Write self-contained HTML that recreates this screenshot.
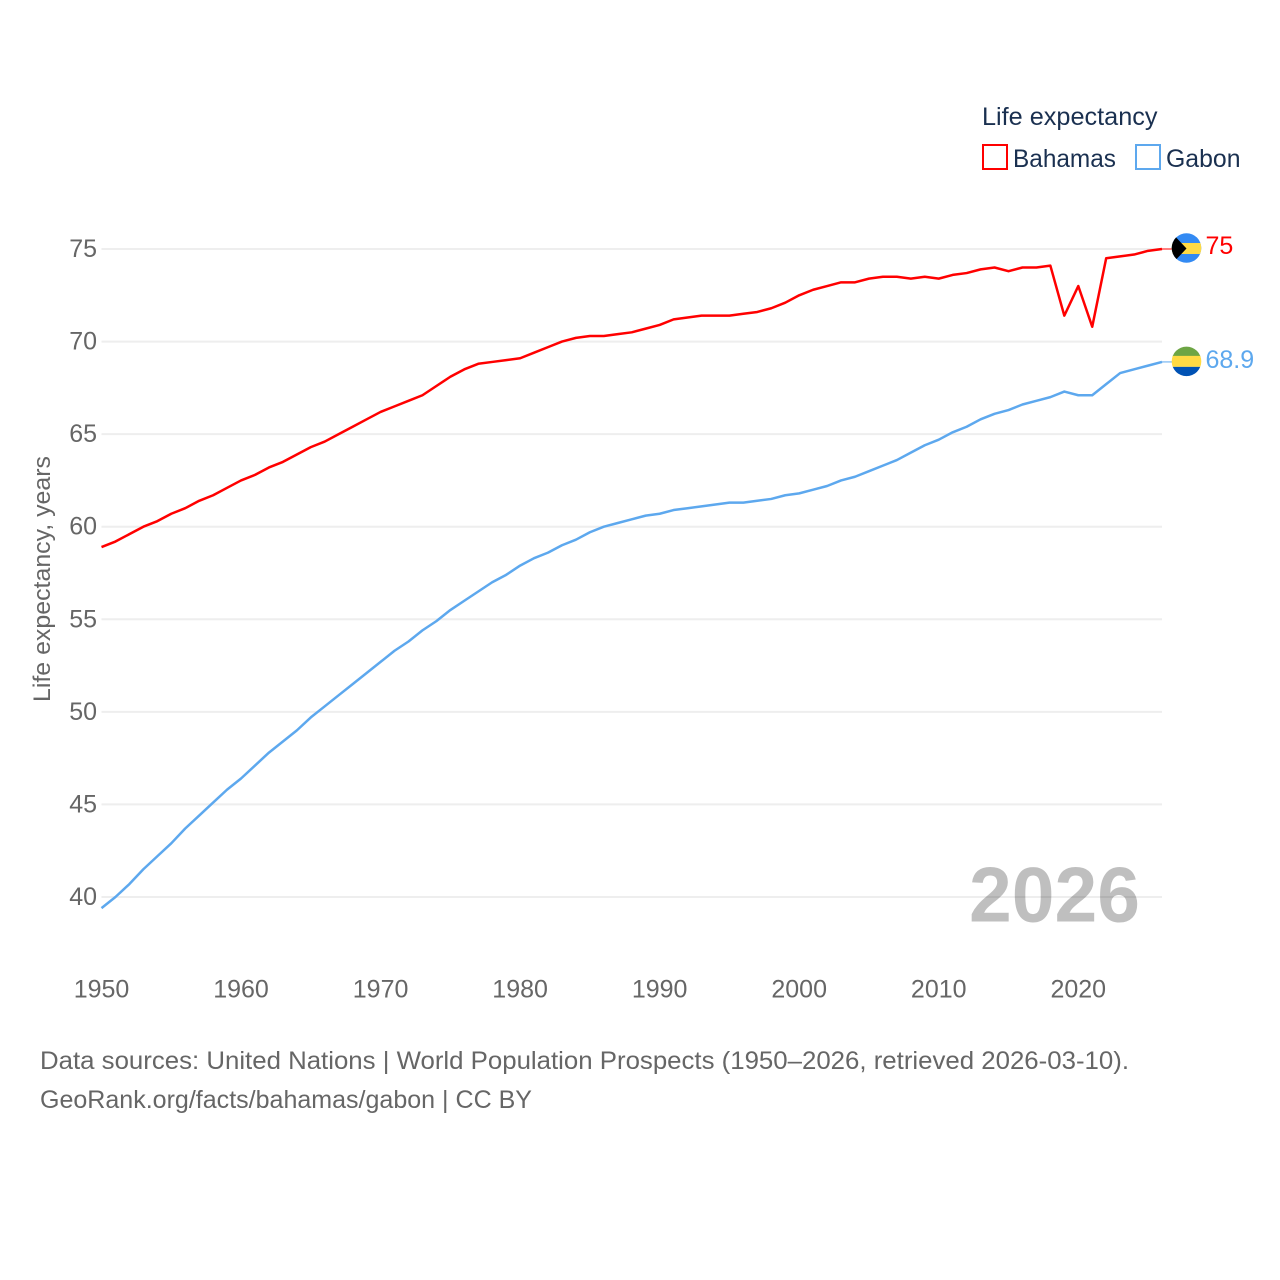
<!DOCTYPE html>
<html lang="en">
<head>
<meta charset="utf-8">
<title>Life expectancy: Bahamas and Gabon</title>
<style>
  html, body { margin: 0; padding: 0; background: #fff; }
  svg { display: block; font-family: "Liberation Sans", sans-serif; }
</style>
</head>
<body>
<svg id="chart" xmlns="http://www.w3.org/2000/svg" width="1280" height="1280" viewBox="0 0 1280 1280">
  <rect x="0" y="0" width="1280" height="1280" fill="#ffffff"/>
  <defs>
    <clipPath id="flag-clip-bahamas"><circle id="clip-circle-bahamas" cx="1186.5" cy="248" r="14.8"/></clipPath>
    <clipPath id="flag-clip-gabon"><circle id="clip-circle-gabon" cx="1186.5" cy="361.5" r="14.8"/></clipPath>
  </defs>
  <g id="grid"></g>
  <g id="y-ticks"></g>
  <g id="x-ticks"></g>
  <text transform="translate(50,702) rotate(-90)" font-size="24" fill="#666666" textLength="246" lengthAdjust="spacingAndGlyphs">Life expectancy, years</text>
  <text x="969" y="921.5" font-size="78" font-weight="700" fill="#000000" fill-opacity="0.25" textLength="171" lengthAdjust="spacingAndGlyphs">2026</text>
  <g id="series"></g>
  <g id="flag-bahamas">
    <g clip-path="url(#flag-clip-bahamas)">
      <rect x="1171" y="233" width="31" height="30" fill="#338af3"/>
      <rect x="1171" y="243" width="31" height="11" fill="#ffda44"/>
      <polygon points="1171,232 1186.5,248.5 1171,265" fill="#000000"/>
    </g>
  </g>
  <g id="flag-gabon">
    <g clip-path="url(#flag-clip-gabon)">
      <rect x="1171" y="346" width="31" height="11" fill="#6da544"/>
      <rect x="1171" y="356" width="31" height="11" fill="#ffda44"/>
      <rect x="1171" y="367" width="31" height="11" fill="#0052b4"/>
    </g>
  </g>
  <g id="end-labels"></g>
  <g id="legend">
    <text x="982" y="125" font-size="25" fill="#1a3050" textLength="175.5" lengthAdjust="spacingAndGlyphs">Life expectancy</text>
    <g>
      <rect x="983" y="145" width="24" height="24" fill="#ffffff" stroke="#ff0000" stroke-width="2"/>
      <text x="1013" y="167" font-size="25" fill="#1a3050" textLength="103" lengthAdjust="spacingAndGlyphs">Bahamas</text>
    </g>
    <g>
      <rect x="1136" y="145" width="24" height="24" fill="#ffffff" stroke="#5da8ee" stroke-width="2"/>
      <text x="1166" y="167" font-size="25" fill="#1a3050" textLength="74.5" lengthAdjust="spacingAndGlyphs">Gabon</text>
    </g>
  </g>
  <text x="40" y="1069" font-size="25" fill="#666666" textLength="1089" lengthAdjust="spacingAndGlyphs">Data sources: United Nations | World Population Prospects (1950–2026, retrieved 2026-03-10).</text>
  <text x="40" y="1108" font-size="25" fill="#666666" textLength="492" lengthAdjust="spacingAndGlyphs">GeoRank.org/facts/bahamas/gabon | CC BY</text>
</svg>
<script>
const years = [1950,1951,1952,1953,1954,1955,1956,1957,1958,1959,1960,1961,1962,1963,1964,1965,1966,1967,1968,1969,1970,1971,1972,1973,1974,1975,1976,1977,1978,1979,1980,1981,1982,1983,1984,1985,1986,1987,1988,1989,1990,1991,1992,1993,1994,1995,1996,1997,1998,1999,2000,2001,2002,2003,2004,2005,2006,2007,2008,2009,2010,2011,2012,2013,2014,2015,2016,2017,2018,2019,2020,2021,2022,2023,2024,2025,2026];
const bahamasValues = [58.9,59.2,59.6,60.0,60.3,60.7,61.0,61.4,61.7,62.1,62.5,62.8,63.2,63.5,63.9,64.3,64.6,65.0,65.4,65.8,66.2,66.5,66.8,67.1,67.6,68.1,68.5,68.8,68.9,69.0,69.1,69.4,69.7,70.0,70.2,70.3,70.3,70.4,70.5,70.7,70.9,71.2,71.3,71.4,71.4,71.4,71.5,71.6,71.8,72.1,72.5,72.8,73.0,73.2,73.2,73.4,73.5,73.5,73.4,73.5,73.4,73.6,73.7,73.9,74.0,73.8,74.0,74.0,74.1,71.4,73.0,70.8,74.5,74.6,74.7,74.9,75.0];
const gabonValues = [39.4,40.0,40.7,41.5,42.2,42.9,43.7,44.4,45.1,45.8,46.4,47.1,47.8,48.4,49.0,49.7,50.3,50.9,51.5,52.1,52.7,53.3,53.8,54.4,54.9,55.5,56.0,56.5,57.0,57.4,57.9,58.3,58.6,59.0,59.3,59.7,60.0,60.2,60.4,60.6,60.7,60.9,61.0,61.1,61.2,61.3,61.3,61.4,61.5,61.7,61.8,62.0,62.2,62.5,62.7,63.0,63.3,63.6,64.0,64.4,64.7,65.1,65.4,65.8,66.1,66.3,66.6,66.8,67.0,67.3,67.1,67.1,67.7,68.3,68.5,68.7,68.9];
const yTickValues = [40,45,50,55,60,65,70,75];
const xTickValues = [1950,1960,1970,1980,1990,2000,2010,2020];

const NS = 'http://www.w3.org/2000/svg';
const xScale = function (year) { return 101.5 + (year - 1950) * (1162 - 101.5) / (2026 - 1950); };
const yScale = function (value) { return 897 - (value - 40) * (897 - 249) / (75 - 40); };

function make(tag, parentId, attrs, content) {
  const el = document.createElementNS(NS, tag);
  Object.keys(attrs).forEach(function (key) { el.setAttribute(key, attrs[key]); });
  if (content !== undefined) { el.textContent = content; }
  document.getElementById(parentId).appendChild(el);
  return el;
}

yTickValues.forEach(function (tick) {
  const gridLine = make('line', 'grid', { x1: 101.5, x2: 1162, y1: yScale(tick), y2: yScale(tick), stroke: '#eeeeee', 'stroke-width': 2 });
  
  
  const yLabel = make('text', 'y-ticks', { x: 97, y: yScale(tick) + 8, 'text-anchor': 'end', 'font-size': 25, fill: '#666666' }, String(tick));
  
  
});

xTickValues.forEach(function (tick) {
  const xLabel = make('text', 'x-ticks', { x: xScale(tick), y: 997.5, 'text-anchor': 'middle', 'font-size': 25, fill: '#666666' }, String(tick));
  
  
});

function linePoints(values) {
  return values.map(function (value, i) { return xScale(years[i]).toFixed(2) + ',' + yScale(value).toFixed(2); }).join(' ');
}

function lastY(values) { return yScale(values[values.length - 1]); }

const bahamasLine = make('polyline', 'series', { points: linePoints(bahamasValues), fill: 'none', stroke: '#ff0000', 'stroke-width': 2.5, 'stroke-linejoin': 'round' });



const gabonLine = make('polyline', 'series', { points: linePoints(gabonValues), fill: 'none', stroke: '#5da8ee', 'stroke-width': 2.5, 'stroke-linejoin': 'round' });



const bahamasConnector = make('line', 'series', { x1: 1162, x2: 1172, y1: lastY(bahamasValues), y2: lastY(bahamasValues), stroke: '#ff0000', 'stroke-width': 1 });



const gabonConnector = make('line', 'series', { x1: 1162, x2: 1172, y1: lastY(gabonValues), y2: lastY(gabonValues), stroke: '#5da8ee', 'stroke-width': 1 });



const bahamasEnd = make('text', 'end-labels', { x: 1205.5, y: lastY(bahamasValues) + 5, 'font-size': 25, fill: '#ff0000' }, String(bahamasValues[bahamasValues.length - 1]));



const gabonEnd = make('text', 'end-labels', { x: 1205.5, y: lastY(gabonValues) + 6, 'font-size': 25, fill: '#5da8ee' }, String(gabonValues[gabonValues.length - 1]));



document.getElementById('flag-bahamas').setAttribute('transform', 'translate(0,' + (lastY(bahamasValues) - 249) + ')');
document.getElementById('flag-gabon').setAttribute('transform', 'translate(0,' + (lastY(gabonValues) - 362.07) + ')');
</script>
</body>
</html>
